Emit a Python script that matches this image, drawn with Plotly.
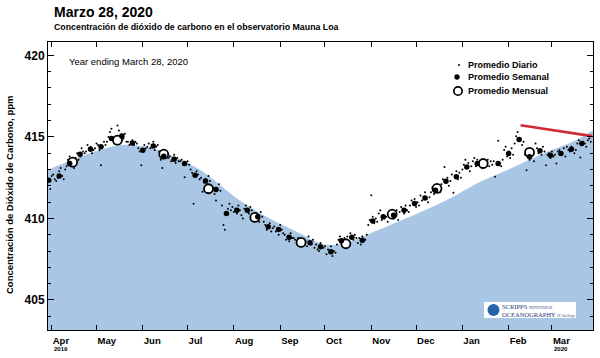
import pandas as pd
import plotly.graph_objects as go

# ---------------- data ----------------
daily_start = "2019-03-29"
daily_values = [
    412.1, 412.4, 411.8, 412.6, 412.7,
    412.4, 412.3, 412.5, 412.9, 413.1, 412.6, 412.4,
    413.0, 413.2, 413.6, 413.8, 413.5, 413.3, 413.1,
    413.7, 414.0, 413.6, 413.8, 414.3, 414.1, 414.0,
    414.1, 414.5, 414.3, 414.4, 414.0, 414.2, 414.3,
    414.6, 414.5, 414.2, 413.26, 414.4, 414.7, 414.5,
    414.7, 415.0, 415.3, 415.5, 414.8, 414.6, 414.9,
    415.7, 415.4, 415.1, 414.8, 414.9, 415.2, 414.7,
    414.7, 414.5, 414.6, 414.8, 414.5, 414.7, 414.6,
    414.3, 414.1, 413.26, 414.2, 414.5, 414.3, 414.4,
    414.6, 414.3, 414.5, 414.7, 414.2, 414.4, 414.5,
    414.1, 413.6, 413.1, 413.9, 414.0, 413.8, 413.7,
    413.8, 413.5, 413.6, 413.9, 413.4, 413.7, 413.5,
    413.5, 413.6, 413.3, 412.53, 413.4, 413.5, 413.3,
    413.0, 412.8, 410.9, 412.6, 412.9, 412.7, 412.4,
    412.5, 411.63, 412.2, 412.4, 412.1, 412.6, 412.3,
    412.0, 411.9, 411.5, 411.1, 411.8, 412.1, 411.7,
    410.8, 409.6, 409.3, 410.4, 410.6, 410.9, 410.5,
    410.7, 410.4, 410.6, 410.3, 410.8, 410.5, 410.2,
    410.0, 410.6, 410.8, 410.4, 410.3, 410.7, 410.5,
    410.2, 409.9, 410.3, 410.0, 409.8, 410.4, 410.1,
    409.8, 409.6, 409.3, 409.5, 409.7, 409.2, 409.4,
    409.5, 409.2, 409.4, 409.0, 409.6, 409.3, 409.1,
    409.0, 408.7, 408.9, 408.6, 409.1, 408.8, 408.8,
    408.7, 408.5, 408.8, 408.6, 408.4, 408.7, 408.5,
    408.6, 408.3, 408.9, 408.5, 408.4, 408.7, 408.2,
    408.4, 408.1, 408.0, 408.5, 408.3, 408.2, 408.3,
    407.8, 408.1, 407.9, 408.3, 407.7, 408.0, 407.9,
    408.4, 408.7, 408.9, 408.5, 408.6, 408.8, 408.5,
    408.9, 408.6, 409.1, 408.8, 408.7, 409.0, 408.8,
    408.5, 408.8, 408.4, 408.9, 408.6, 408.7, 409.0,
    409.6, 409.9, 411.43, 410.1, 409.7, 410.0, 409.8,
    410.3, 410.5, 409.9, 410.2, 410.0, 410.1, 409.8,
    410.1, 410.4, 410.2, 410.0, 410.3, 410.5, 409.9,
    410.4, 410.7, 410.6, 410.3, 410.8, 410.5, 410.4,
    410.8, 411.1, 410.9, 411.2, 410.7, 411.0, 410.8,
    411.4, 411.1, 411.3, 411.6, 411.2, 411.0, 411.3,
    411.6, 411.9, 411.5, 412.0, 411.8, 411.7, 411.6,
    412.1, 412.4, 413.16, 412.2, 412.5, 412.0, 412.3,
    412.7, 411.57, 412.6, 412.9, 412.4, 412.8, 412.5,
    413.0, 413.3, 413.6, 413.1, 413.4, 412.9, 413.2,
    413.5, 413.7, 413.2, 413.6, 413.3, 413.4, 413.1,
    413.3, 413.5, 413.4, 413.6, 413.2, 413.5, 413.3,
    413.5, 412.55, 413.3, 414.77, 413.4, 413.2, 413.6,
    414.2, 414.4, 413.8, 414.1, 413.7, 414.3, 413.9,
    414.6, 415.04, 415.3, 414.8, 414.9, 414.5, 414.7,
    413.9, 412.96, 414.0, 413.6, 413.8, 414.1, 413.5,
    414.6, 414.3, 414.0, 414.2, 413.9, 414.4, 414.1,
    413.26, 413.9, 414.0, 413.7, 414.1, 413.8, 413.9,
    413.37, 414.1, 414.2, 413.9, 414.0, 414.3, 413.8,
    414.39, 414.2, 414.1, 414.4, 414.3, 414.0, 414.2,
    414.6, 414.8, 413.73, 414.5, 414.7, 414.6, 414.4,
    414.8, 414.9, 414.7,
]

weekly_start = "2019-03-30"
weekly_values = [
    412.35, 412.6, 413.37, 413.94, 414.24, 414.39, 414.9, 415.06,
    414.63, 414.18, 414.45, 413.82, 413.63, 413.37, 412.65, 412.3,
    411.78, 410.31, 410.51, 410.51, 410.1, 409.49, 409.33, 408.84,
    None, 408.51, 408.26, 407.96, 408.63, 408.84, 408.67, 409.85,
    410.1, 410.2, 410.5, 410.92, 411.26, 411.73, 412.28, 412.55,
    413.16, 413.37, None, 413.37, 413.98, 414.84, 413.78, 414.15,
    413.88, 413.98, 414.24, 414.59,
]

monthly_dates = ["2019-04-15", "2019-05-15", "2019-06-15", "2019-07-15",
                 "2019-08-15", "2019-09-15", "2019-10-15", "2019-11-15",
                 "2019-12-15", "2020-01-15", "2020-02-15"]
monthly_values = [413.45, 414.8, 413.94, 411.82, 410.06, 408.53, 408.45,
                  410.26, 411.84, 413.37, 414.05]

fit_dates = ["2019-03-27", "2019-04-15", "2019-04-28", "2019-05-18", "2019-06-01",
             "2019-06-17", "2019-07-09", "2019-08-05", "2019-08-27", "2019-09-14",
             "2019-10-01", "2019-10-15", "2019-11-06", "2019-12-21", "2020-01-12",
             "2020-02-03", "2020-02-26", "2020-03-15", "2020-03-30"]
fit_values = [412.9, 413.6, 414.05, 414.5, 414.42,
              414.0, 413.0, 411.1, 409.9, 409.1,
              408.4, 408.5, 409.3, 411.1, 412.2,
              413.1, 414.06, 414.7, 415.5]

trend_dates = ["2020-02-09", "2020-03-28"]
trend_values = [415.71, 415.05]

month_ticks = list(pd.date_range("2019-04-01", periods=12, freq="MS"))
month_labels = ["Apr", "May", "Jun", "Jul", "Aug", "Sep", "Oct", "Nov",
                "Dec", "Jan", "Feb", "Mar"]
year_labels = [("2019-04-01", "2019"), ("2020-03-01", "2020")]
y_ticks = [405, 410, 415, 420]
legend_names = ["Promedio Diario", "Promedio Semanal", "Promedio Mensual"]

daily_dates = pd.date_range(daily_start, periods=len(daily_values), freq="D")
weekly_dates = pd.date_range(weekly_start, periods=len(weekly_values), freq="7D")

FONT = "Liberation Sans, Arial, sans-serif"
W, H = 600, 358
ML, MR, MT, MB = 48, 7, 42, 28
PW, PH = W - ML - MR, H - MT - MB


def px(x):
    return (x - ML) / PW


def py(y):
    return (H - MB - y) / PH


fig = go.Figure()

fig.add_trace(go.Scatter(
    x=fit_dates, y=fit_values, mode="lines",
    line=dict(width=0, shape="spline", smoothing=1.0, color="#a9c7e5"),
    fill="tozeroy", fillcolor="#a9c7e5", showlegend=False, hoverinfo="skip"))

fig.add_trace(go.Scatter(
    x=daily_dates, y=daily_values, mode="markers", name=legend_names[0],
    marker=dict(size=2, color="black"), showlegend=False))

fig.add_trace(go.Scatter(
    x=monthly_dates, y=monthly_values, mode="markers", name=legend_names[2],
    marker=dict(size=9, color="white", symbol="circle",
                line=dict(color="black", width=1.8)), showlegend=False))

fig.add_trace(go.Scatter(
    x=weekly_dates, y=weekly_values, mode="markers", name=legend_names[1],
    marker=dict(size=5.5, color="black"), showlegend=False))

fig.add_trace(go.Scatter(
    x=trend_dates, y=trend_values, mode="lines",
    line=dict(color="#d42a34", width=2.6), showlegend=False))

annotations = [
    dict(text="<b>Marzo 28, 2020</b>", x=px(52), y=py(11.5), xref="paper", yref="paper",
         xanchor="left", yanchor="middle", showarrow=False,
         font=dict(family=FONT, size=14, color="black")),
    dict(text="<b>Concentración de dióxido de carbono en el observatorio Mauna Loa</b>",
         x=px(52), y=py(26.5), xref="paper", yref="paper", xanchor="left", yanchor="middle",
         showarrow=False, font=dict(family=FONT, size=8.8, color="black")),
    dict(text="Year ending March 28, 2020", x=px(67), y=py(62), xref="paper", yref="paper",
         xanchor="left", yanchor="middle", showarrow=False,
         font=dict(family=FONT, size=9.5, color="black")),
    dict(text="<b>Concentración de Dióxido de Carbono, ppm</b>", x=px(9), y=py(195),
         xref="paper", yref="paper", xanchor="center", yanchor="middle",
         textangle=-90, showarrow=False, font=dict(family=FONT, size=9.5, color="black")),
]
for d, t in year_labels:
    annotations.append(dict(text="<b>" + t + "</b>", x=d, y=py(349), xref="x", yref="paper",
                            xanchor="left", yanchor="middle", showarrow=False,
                            font=dict(family=FONT, size=6, color="black")))

# legend (keys drawn as shapes, labels as text)
legend_rows = [65, 77, 91]
for name, ry in zip(legend_names, legend_rows):
    annotations.append(dict(text="<b>" + name + "</b>", x=px(466), y=py(ry), xref="paper",
                            yref="paper", xanchor="left", yanchor="middle", showarrow=False,
                            font=dict(family=FONT, size=9, color="black")))


def circ(cx, cy, r, fill, lw):
    return dict(type="circle", xref="paper", yref="paper",
                x0=px(cx - r), x1=px(cx + r), y0=py(cy + r), y1=py(cy - r),
                fillcolor=fill, line=dict(color="black", width=lw), layer="above")


shapes = [
    circ(459, legend_rows[0], 1.0, "black", 0),
    circ(457, legend_rows[1], 2.7, "black", 0),
    circ(458, legend_rows[2], 4.2, "white", 1.7),
    # logo
    dict(type="rect", xref="paper", yref="paper", x0=px(484), x1=px(576), y0=py(318), y1=py(302),
         fillcolor="white", line=dict(width=0), layer="above"),
    dict(type="circle", xref="paper", yref="paper", x0=px(487.5), x1=px(499.5),
         y0=py(316), y1=py(304), fillcolor="#2a64a8", line=dict(width=0), layer="above"),
]
annotations.append(dict(
    text="SCRIPPS <span style='font-size:3px'>INSTITUTION OF</span><br>"
         "OCEANOGRAPHY <span style='font-size:3px'>UC San Diego</span>",
    x=px(500), y=py(310), xref="paper", yref="paper", xanchor="left", yanchor="middle",
    align="left", showarrow=False,
    font=dict(family="Liberation Serif, serif", size=6.5, color="#1d3a70")))

fig.update_layout(
    width=W, height=H,
    margin=dict(l=ML, r=MR, t=MT, b=MB, autoexpand=False),
    paper_bgcolor="white", plot_bgcolor="white",
    font=dict(family=FONT, color="black"),
    annotations=annotations, shapes=shapes, showlegend=False,
    xaxis=dict(range=["2019-03-29 12:00", "2020-03-28 12:00"], showgrid=False,
               zeroline=False, showline=True, linecolor="black", linewidth=1,
               mirror="ticks", ticks="inside", ticklen=5, tickcolor="black",
               tickvals=month_ticks, ticktext=["<b>" + m + "</b>" for m in month_labels],
               ticklabelposition="outside right", ticklabelstandoff=2,
               tickfont=dict(family=FONT, size=9.5, color="black")),
    yaxis=dict(range=[403.16, 420.82], showgrid=False, zeroline=False,
               showline=True, linecolor="black", linewidth=1, mirror="ticks",
               ticks="inside", ticklen=6, tickcolor="black", tickvals=y_ticks,
               ticktext=["<b>%d</b>" % v for v in y_ticks], ticklabelstandoff=0,
               tickfont=dict(family=FONT, size=12, color="black"),
               minor=dict(dtick=1, ticks="inside", ticklen=3, tickcolor="black")),
)

fig.write_html("out.html", config={"displayModeBar": False},
               post_script="document.body.style.margin='0';document.body.style.overflow='hidden';")
